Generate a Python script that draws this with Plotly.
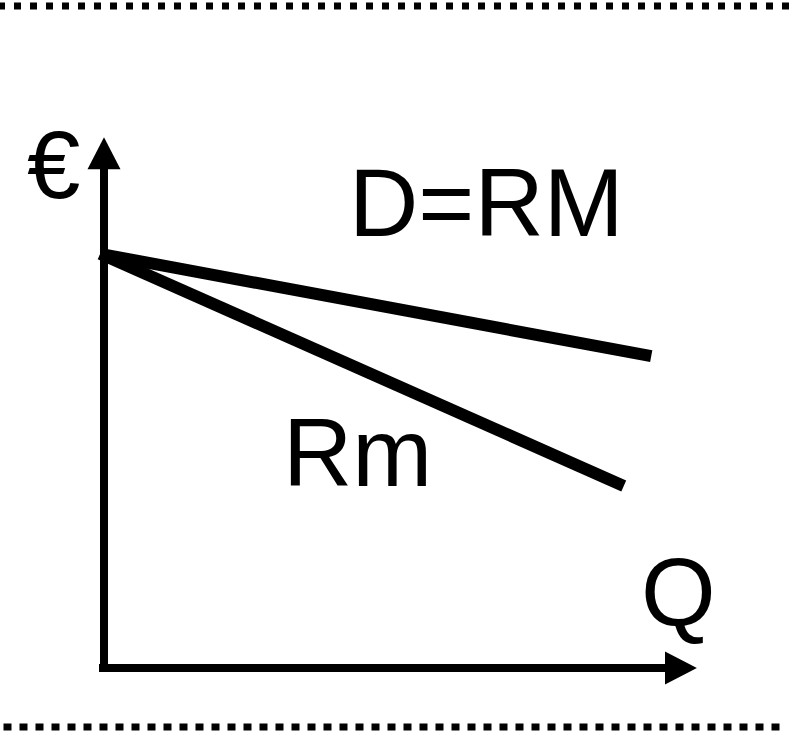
import plotly.graph_objects as go

# ---- data (diagram units: quantity Q, price €) ----
q_demand = [-0.07, 9.95]      # D = RM (average revenue)
p_demand = [7.53, 5.67]
q_marginal = [-0.07, 9.45]    # Rm (marginal revenue)
p_marginal = [7.53, 3.31]

x_axis_end = 10.78            # Q axis arrow tip
y_axis_end = 9.65             # € axis arrow tip

labels = {"D=RM": (6.95, 8.38), "Rm": (4.61, 3.83), "Q": (10.45, 1.28), "€": (-0.92, 9.07)}

W, H = 795, 731
SCALE = 55.0                  # px per unit
OX, OY = 104, 668             # pixel position of origin

xr = [-OX / SCALE, (W - OX) / SCALE]
yr = [-(H - OY) / SCALE, OY / SCALE]


def ux(px):
    return (px - OX) / SCALE


def uy(py):
    return (OY - py) / SCALE


fig = go.Figure()

fig.add_trace(go.Scatter(x=q_demand, y=p_demand, mode="lines",
                         line=dict(color="black", width=12), hoverinfo="skip"))
fig.add_trace(go.Scatter(x=q_marginal, y=p_marginal, mode="lines",
                         line=dict(color="black", width=12), hoverinfo="skip"))

shapes = []
head_len = 0.58
head_half = 0.30
# y axis
shapes.append(dict(type="line", x0=0, x1=0, y0=uy(672), y1=y_axis_end - head_len + 0.02,
                   line=dict(color="black", width=8)))
shapes.append(dict(type="path",
                   path=f"M {-head_half} {y_axis_end - head_len} L {head_half} {y_axis_end - head_len} L 0 {y_axis_end} Z",
                   fillcolor="black", line=dict(width=0)))
# x axis
shapes.append(dict(type="line", x0=ux(99), x1=x_axis_end - head_len + 0.02, y0=0, y1=0,
                   line=dict(color="black", width=8)))
shapes.append(dict(type="path",
                   path=f"M {x_axis_end - head_len} {-head_half} L {x_axis_end - head_len} {head_half} L {x_axis_end} 0 Z",
                   fillcolor="black", line=dict(width=0)))
# dotted borders
shapes.append(dict(type="line", x0=ux(-2), x1=ux(795), y0=uy(6), y1=uy(6),
                   line=dict(color="black", width=7, dash="7px,9px")))
shapes.append(dict(type="line", x0=ux(3.5), x1=ux(785), y0=uy(727), y1=uy(727),
                   line=dict(color="black", width=7, dash="8px,8px")))

annotations = []
for txt, (x, y) in labels.items():
    annotations.append(dict(text=txt, x=x, y=y, xref="x", yref="y", showarrow=False,
                            xanchor="center", yanchor="middle", yshift=5,
                            font=dict(family="Liberation Sans, Arial", size=96, color="black")))

fig.update_layout(
    width=W, height=H,
    margin=dict(l=0, r=0, t=0, b=0),
    paper_bgcolor="white", plot_bgcolor="white",
    showlegend=False,
    shapes=shapes, annotations=annotations,
    xaxis=dict(range=xr, visible=False, fixedrange=True),
    yaxis=dict(range=yr, visible=False, fixedrange=True),
)

fig.write_html("out.html", config={"staticPlot": True},
               post_script="document.body.style.margin='0';document.body.style.overflow='hidden';")
